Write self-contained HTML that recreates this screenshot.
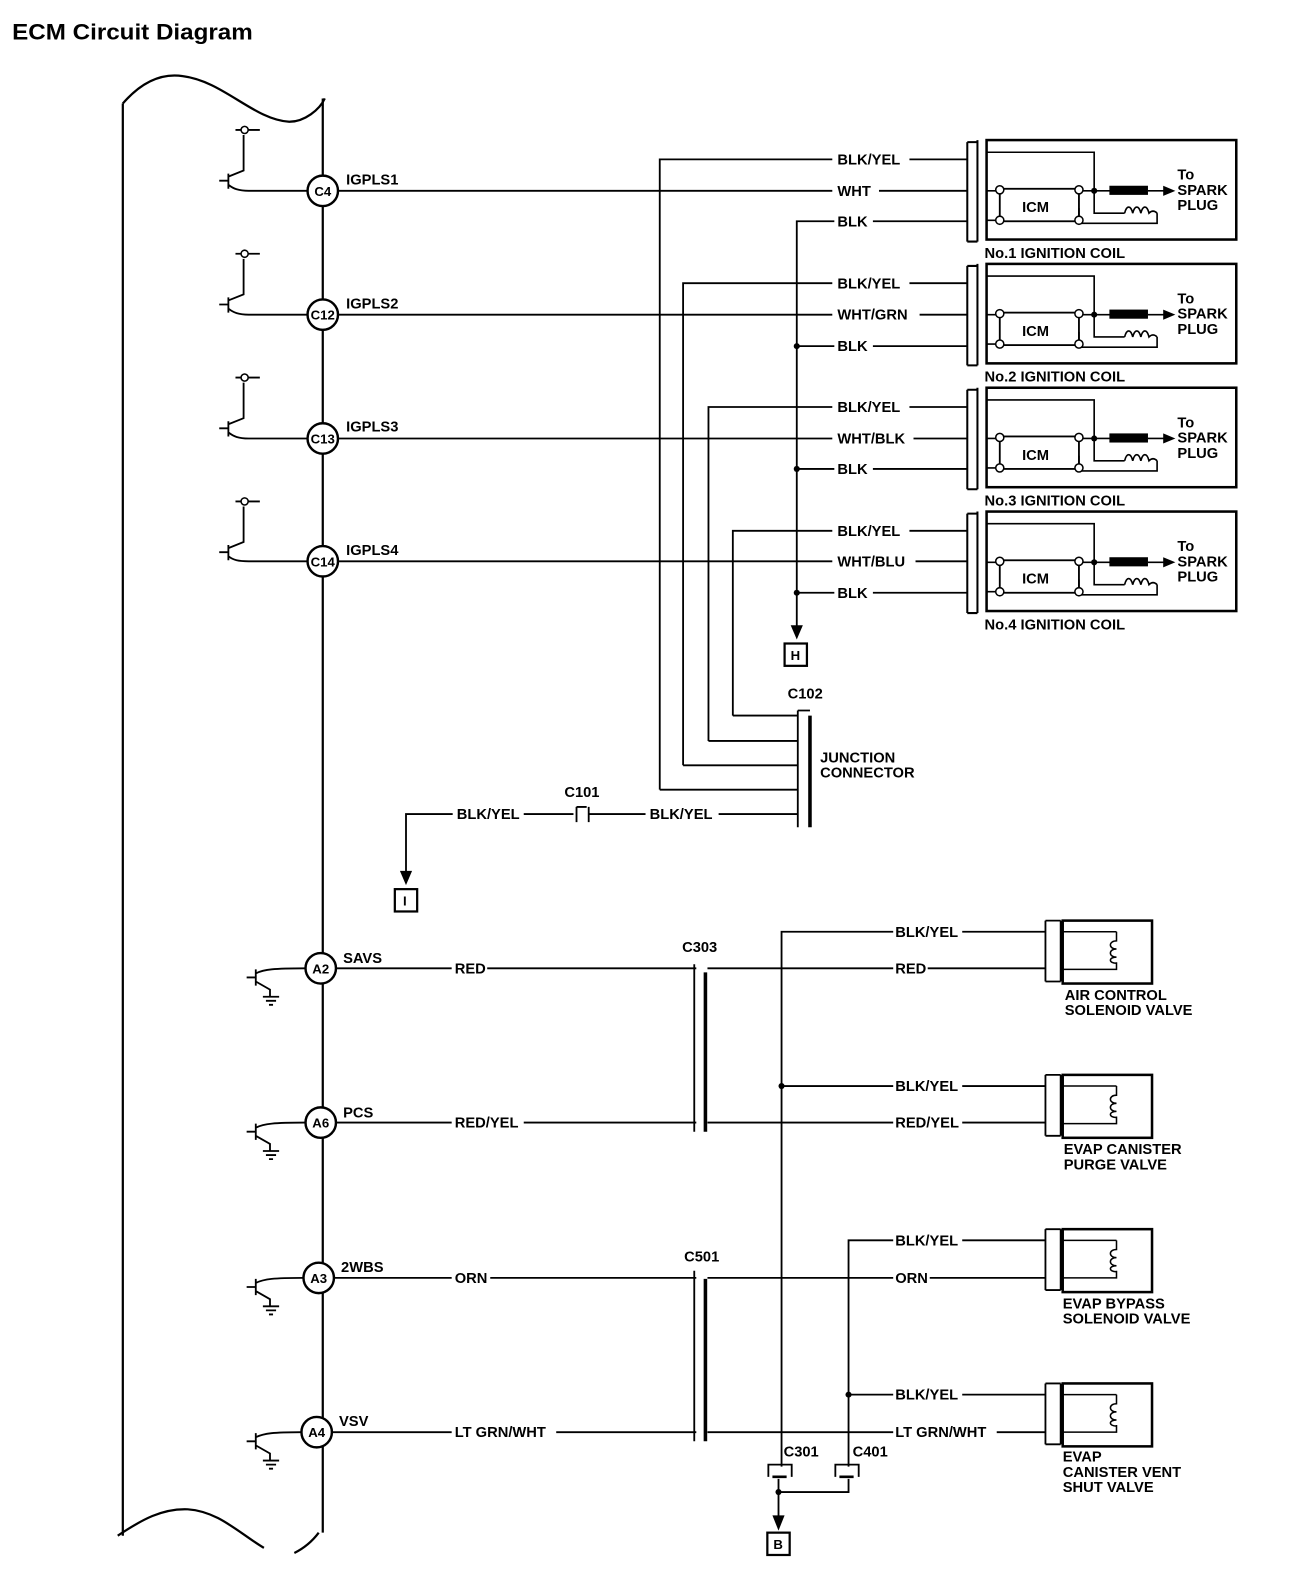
<!DOCTYPE html>
<html><head><meta charset="utf-8"><style>
html,body{margin:0;padding:0;background:#fff;width:1312px;height:1592px;overflow:hidden;}
svg{display:block;position:absolute;left:0;top:0}
text{font-family:"Liberation Sans",Arial,sans-serif;font-weight:bold;fill:#000;}
.l{font-size:14.5px}
</style></head><body>
<svg width="1312" height="1592" viewBox="0 0 1312 1592" xmlns="http://www.w3.org/2000/svg">
<defs>
<g id="coil">
  <path d="M953,2 V100 M953,2 H963 M953,100 H963 M963,0 V100" stroke="#000" stroke-width="2" fill="none"/>
  <rect x="972" y="0" width="246" height="98" fill="none" stroke="#000" stroke-width="2.5"/>
  <path d="M972,12 H1078 V50 M1078,50 V72 H1108 M1140,72 V82 H1063 V67" stroke="#000" stroke-width="1.6" fill="none"/>
  <path d="M1108,72 c2,-8 6,-8 8,0 c2,-8 6,-8 8,0 c2,-8 6,-8 8,0 q4,-4 8,0" stroke="#000" stroke-width="1.6" fill="none"/>
  <rect x="985" y="48" width="78" height="32" fill="none" stroke="#000" stroke-width="1.8"/>
  <path d="M972,50 H985 M972,79 H985 M1063,50 H1095" stroke="#000" stroke-width="1.6"/>
  <rect x="1093" y="45" width="38" height="9" fill="#000"/>
  <path d="M1131,50 H1148" stroke="#000" stroke-width="1.6"/>
  <polygon points="1146,45 1158,50 1146,55" fill="#000"/>
  <circle cx="1078" cy="50" r="3" fill="#000"/>
  <circle cx="985" cy="49" r="4" fill="#fff" stroke="#000" stroke-width="1.5"/>
  <circle cx="985" cy="79" r="4" fill="#fff" stroke="#000" stroke-width="1.5"/>
  <circle cx="1063" cy="49" r="4" fill="#fff" stroke="#000" stroke-width="1.5"/>
  <circle cx="1063" cy="79" r="4" fill="#fff" stroke="#000" stroke-width="1.5"/>
</g>
<g id="valve">
  <path d="M1030,0 V60 M1030,0 H1045 M1030,60 H1045 M1045,0 V60" stroke="#000" stroke-width="1.8" fill="none"/>
  <rect x="1047" y="0" width="88" height="62" fill="none" stroke="#000" stroke-width="2.5"/>
  <path d="M1047,11 H1100 M1047,48 H1100 V41" stroke="#000" stroke-width="1.5" fill="none"/>
  <path d="M1100,11 V20 c-8,0 -8,8 0,8 c-8,0 -8,8 0,8 c-8,0 -8,6 0,6" stroke="#000" stroke-width="1.5" fill="none"/>
</g>
</defs>
<g transform="scale(1.015)">
<text x="12" y="39" style="font-size:22px" textLength="237" lengthAdjust="spacingAndGlyphs">ECM Circuit Diagram</text>

<g stroke="#000" stroke-width="2.2" fill="none">
<path d="M121,102 C140,80 160,72 180,75 C220,80 250,118 285,120 C300,120 315,108 320,97"/>
<path d="M121,102 V1513"/>
<path d="M318,97 V1510"/>
<path d="M116,1513 C140,1497 160,1486 185,1487 C215,1489 235,1510 260,1525 M290,1530 C300,1525 308,1518 314,1510"/>
</g>

<g stroke="#000" stroke-width="1.8" fill="none">
<path d="M216,178 H225 M225,171 V186 M225,174 L240,168 V133 M232,128 H256 M225,182 C230,186 235,188 245,188 H303"/>
<path d="M216,300 H225 M225,293 V308 M225,296 L240,290 V255 M232,250 H256 M225,304 C230,308 235,310 245,310 H303"/>
<path d="M216,422 H225 M225,415 V430 M225,418 L240,412 V377 M232,372 H256 M225,426 C230,430 235,432 245,432 H303"/>
<path d="M216,544 H225 M225,537 V552 M225,540 L240,534 V499 M232,494 H256 M225,548 C230,552 235,553 245,553 H303"/>
</g>
<g fill="#fff" stroke="#000" stroke-width="1.5">
<circle cx="241" cy="128" r="3.5"/><circle cx="241" cy="250" r="3.5"/><circle cx="241" cy="372" r="3.5"/><circle cx="241" cy="494" r="3.5"/>
</g>
<g fill="#fff" stroke="#000" stroke-width="2.4">
<circle cx="318" cy="188" r="15"/><circle cx="318" cy="310" r="15"/><circle cx="318" cy="432" r="15"/><circle cx="318" cy="553" r="15"/>
<circle cx="316" cy="954" r="15"/><circle cx="316" cy="1106" r="15"/><circle cx="314" cy="1259" r="15"/><circle cx="312" cy="1411" r="15"/>
</g>
<g text-anchor="middle" style="font-size:13px">
<text x="318" y="193">C4</text><text x="318" y="315">C12</text><text x="318" y="437">C13</text><text x="318" y="558">C14</text>
<text x="316" y="959">A2</text><text x="316" y="1111">A6</text><text x="314" y="1264">A3</text><text x="312" y="1416">A4</text>
</g>
<g class="l">
<text x="341" y="182">IGPLS1</text><text x="341" y="304">IGPLS2</text><text x="341" y="425">IGPLS3</text><text x="341" y="547">IGPLS4</text>
<text x="338" y="949">SAVS</text><text x="338" y="1101">PCS</text><text x="336" y="1253">2WBS</text><text x="334" y="1405">VSV</text>
</g>

<g stroke="#000" stroke-width="1.8" fill="none">
<path d="M333,188 H820 M866,188 H953"/>
<path d="M650,778 V157 H820 M896,157 H953"/>
<path d="M785,618 V218 H822 M860,218 H953"/>
<path d="M333,310 H820 M906,310 H953"/>
<path d="M673,754 V279 H820 M896,279 H953"/>
<path d="M785,341 H822 M860,341 H953"/>
<path d="M333,432 H820 M900,432 H953"/>
<path d="M698,730 V401 H820 M896,401 H953"/>
<path d="M785,462 H822 M860,462 H953"/>
<path d="M333,553 H820 M902,553 H953"/>
<path d="M722,705 V523 H820 M896,523 H953"/>
<path d="M785,584 H822 M860,584 H953"/>
<path d="M650,778 H786 M673,754 H786 M698,730 H786 M722,705 H786"/>
<path d="M786,700 H798 M786,700 V815"/>
<path d="M400,870 V802 H446 M516,802 H565 M568,795 V810 M568,795 H578 M580,795 V810 M580,802 H636 M708,802 H786"/>
</g>
<path d="M798,705 V815" stroke="#000" stroke-width="3.5"/>
<polygon points="779,616 791,616 785,630" fill="#000"/>
<polygon points="394,858 406,858 400,872" fill="#000"/>
<rect x="773" y="634" width="22" height="22" fill="none" stroke="#000" stroke-width="2.2"/>
<rect x="389" y="876" width="22" height="22" fill="none" stroke="#000" stroke-width="2.2"/>
<text x="779" y="650" style="font-size:13px">H</text>
<text x="397" y="892" style="font-size:13px">I</text>
<g fill="#000"><circle cx="785" cy="341" r="3"/><circle cx="785" cy="462" r="3"/><circle cx="785" cy="584" r="3"/></g>
<g class="l">
<text x="825" y="162">BLK/YEL</text><text x="825" y="193">WHT</text><text x="825" y="223">BLK</text>
<text x="825" y="284">BLK/YEL</text><text x="825" y="315">WHT/GRN</text><text x="825" y="346">BLK</text>
<text x="825" y="406">BLK/YEL</text><text x="825" y="437">WHT/BLK</text><text x="825" y="467">BLK</text>
<text x="825" y="528">BLK/YEL</text><text x="825" y="558">WHT/BLU</text><text x="825" y="589">BLK</text>
<text x="776" y="688">C102</text>
<text x="808" y="751">JUNCTION</text><text x="808" y="766">CONNECTOR</text>
<text x="556" y="785">C101</text>
<text x="450" y="807">BLK/YEL</text><text x="640" y="807">BLK/YEL</text>
</g>

<use href="#coil" transform="translate(0,138)"/>
<use href="#coil" transform="translate(0,260)"/>
<use href="#coil" transform="translate(0,382)"/>
<use href="#coil" transform="translate(0,504)"/>
<g class="l">
<text x="1007" y="209">ICM</text><text x="1007" y="331">ICM</text><text x="1007" y="453">ICM</text><text x="1007" y="575">ICM</text>
<text x="1160" y="177">To</text><text x="1160" y="192">SPARK</text><text x="1160" y="207">PLUG</text>
<text x="1160" y="299">To</text><text x="1160" y="314">SPARK</text><text x="1160" y="329">PLUG</text>
<text x="1160" y="421">To</text><text x="1160" y="436">SPARK</text><text x="1160" y="451">PLUG</text>
<text x="1160" y="543">To</text><text x="1160" y="558">SPARK</text><text x="1160" y="573">PLUG</text>
<text x="970" y="254">No.1 IGNITION COIL</text>
<text x="970" y="376">No.2 IGNITION COIL</text>
<text x="970" y="498">No.3 IGNITION COIL</text>
<text x="970" y="620">No.4 IGNITION COIL</text>
</g>

<g stroke="#000" stroke-width="1.8" fill="none">
<path d="M243,963 H252 M252,955 V971 M252,959 C260,955 270,954 301,954 M252,967 L266,975 V982 M259,982 H275 M262,986 H272 M265,990 H269"/>
<path d="M243,1115 H252 M252,1107 V1123 M252,1111 C260,1107 270,1106 301,1106 M252,1119 L266,1127 V1134 M259,1134 H275 M262,1138 H272 M265,1142 H269"/>
<path d="M243,1268 H252 M252,1260 V1276 M252,1264 C260,1260 270,1259 299,1259 M252,1272 L266,1280 V1287 M259,1287 H275 M262,1291 H272 M265,1295 H269"/>
<path d="M243,1420 H252 M252,1412 V1428 M252,1416 C260,1412 270,1411 297,1411 M252,1424 L266,1432 V1439 M259,1439 H275 M262,1443 H272 M265,1447 H269"/>
</g>

<g stroke="#000" stroke-width="1.8" fill="none">
<path d="M331,954 H445 M480,954 H686 M697,954 H880 M914,954 H1030"/>
<path d="M331,1106 H445 M516,1106 H686 M697,1106 H880 M948,1106 H1030"/>
<path d="M329,1259 H445 M483,1259 H686 M697,1259 H880 M916,1259 H1030"/>
<path d="M327,1411 H445 M548,1411 H686 M697,1411 H880 M982,1411 H1030"/>
<path d="M770,1445 V918 H880 M948,918 H1030"/>
<path d="M770,1070 H880 M948,1070 H1030"/>
<path d="M836,1445 V1222 H880 M948,1222 H1030"/>
<path d="M836,1374 H880 M948,1374 H1030"/>
<path d="M684,950 V1115 M684,1252 V1420"/>
<path d="M757,1455 V1443 H780 V1455 M823,1455 V1443 H846 V1455"/>
<path d="M767,1457 V1500 M767,1470 H836 V1457"/>
</g>
<path d="M695,958 V1115 M695,1260 V1420" stroke="#000" stroke-width="3.5"/>
<path d="M761,1455 H775 M827,1455 H841" stroke="#000" stroke-width="2.5"/>
<g fill="#000"><circle cx="770" cy="1070" r="3"/><circle cx="836" cy="1374" r="3"/><circle cx="767" cy="1470" r="3"/></g>
<polygon points="761,1493 773,1493 767,1508" fill="#000"/>
<rect x="756" y="1510" width="22" height="22" fill="none" stroke="#000" stroke-width="2.2"/>
<text x="762" y="1526" style="font-size:13px">B</text>

<use href="#valve" transform="translate(0,907)"/>
<use href="#valve" transform="translate(0,1059)"/>
<use href="#valve" transform="translate(0,1211)"/>
<use href="#valve" transform="translate(0,1363)"/>

<g class="l">
<text x="448" y="959">RED</text><text x="882" y="959">RED</text>
<text x="448" y="1111">RED/YEL</text><text x="882" y="1111">RED/YEL</text>
<text x="448" y="1264">ORN</text><text x="882" y="1264">ORN</text>
<text x="448" y="1416">LT GRN/WHT</text><text x="882" y="1416">LT GRN/WHT</text>
<text x="882" y="923">BLK/YEL</text><text x="882" y="1075">BLK/YEL</text>
<text x="882" y="1227">BLK/YEL</text><text x="882" y="1379">BLK/YEL</text>
<text x="672" y="938">C303</text><text x="674" y="1243">C501</text>
<text x="772" y="1435">C301</text><text x="840" y="1435">C401</text>
<text x="1049" y="985">AIR CONTROL</text><text x="1049" y="1000">SOLENOID VALVE</text>
<text x="1048" y="1137">EVAP CANISTER</text><text x="1048" y="1152">PURGE VALVE</text>
<text x="1047" y="1289">EVAP BYPASS</text><text x="1047" y="1304">SOLENOID VALVE</text>
<text x="1047" y="1440">EVAP</text><text x="1047" y="1455">CANISTER VENT</text><text x="1047" y="1470">SHUT VALVE</text>
</g>
</g>
</svg>
</body></html>
